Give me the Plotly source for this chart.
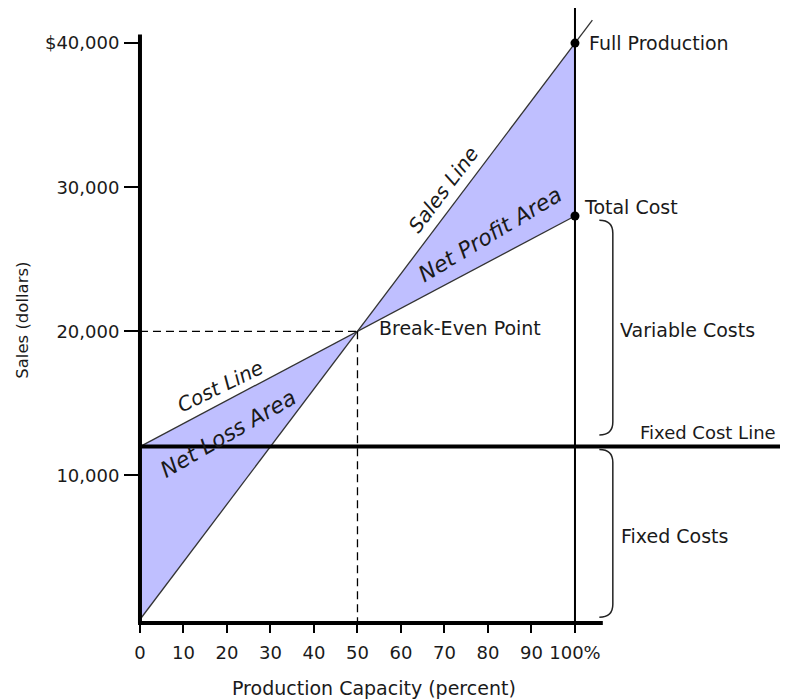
import plotly.graph_objects as go

# ---------------- data ----------------
capacity = [0, 50, 100]            # production capacity (percent)
sales = [0, 20000, 40000]          # sales line (dollars)
total_cost = [12000, 20000, 28000] # cost line (dollars)
fixed_cost = 12000
break_even_x = 50
break_even_y = 20000

x_tickvals = [0, 10, 20, 30, 40, 50, 60, 70, 80, 90, 100]
x_ticktext = ["0", "10", "20", "30", "40", "50", "60", "70", "80", "90", "100%"]
y_tickvals = [10000, 20000, 30000, 40000]
y_ticktext = ["10,000", "20,000", "30,000", "$40,000"]

# ---------------- layout constants ----------------
# page body has an 8px margin, so the figure is 8px smaller than the window
W, H = 780, 691
X_RANGE = [-30.34, 148.97]
Y_RANGE = [-5517, 42436]
AXIS_Y = -250          # level of the drawn x axis
AXIS_TOP = 40600       # top of the drawn y axis
X_AXIS_END = 106.4
FULL_TOP = 42436       # top of the 100% line
SALES_EXT = 104        # sales line drawn slightly past 100%

FILL = "rgb(191,191,255)"
INK = "#1a1a1a"
FONT = "DejaVu Sans"
FS = 19
FS_IT = 20
FS_TICK = 18

fig = go.Figure()

# net loss area (between cost line and sales line, 0..break-even)
fig.add_trace(go.Scatter(
    x=[capacity[0], capacity[1], capacity[0]],
    y=[total_cost[0], sales[1], sales[0]],
    fill="toself", fillcolor=FILL, mode="lines", line=dict(width=0),
    hoverinfo="skip", showlegend=False))
# net profit area
fig.add_trace(go.Scatter(
    x=[capacity[1], capacity[2], capacity[2]],
    y=[sales[1], sales[2], total_cost[2]],
    fill="toself", fillcolor=FILL, mode="lines", line=dict(width=0),
    hoverinfo="skip", showlegend=False))

# sales line (with small extension past 100%)
slope = (sales[-1] - sales[0]) / (capacity[-1] - capacity[0])
fig.add_trace(go.Scatter(
    x=capacity + [SALES_EXT], y=sales + [sales[0] + slope * SALES_EXT],
    mode="lines", line=dict(color="#333", width=1.3),
    hoverinfo="skip", showlegend=False))
# cost line
fig.add_trace(go.Scatter(
    x=capacity, y=total_cost, mode="lines", line=dict(color="#333", width=1.3),
    hoverinfo="skip", showlegend=False))

# fixed cost line
fig.add_trace(go.Scatter(
    x=[0, X_RANGE[1]], y=[fixed_cost, fixed_cost], mode="lines",
    line=dict(color="black", width=4), hoverinfo="skip", showlegend=False))

# dashed break-even guides
fig.add_trace(go.Scatter(
    x=[0, break_even_x], y=[break_even_y, break_even_y], mode="lines",
    line=dict(color="black", width=1.3, dash="8px,5px"),
    hoverinfo="skip", showlegend=False))
fig.add_trace(go.Scatter(
    x=[break_even_x, break_even_x], y=[break_even_y, AXIS_Y], mode="lines",
    line=dict(color="black", width=1.3, dash="8px,5px"),
    hoverinfo="skip", showlegend=False))

# 100% vertical line
fig.add_trace(go.Scatter(
    x=[capacity[-1], capacity[-1]], y=[AXIS_Y, FULL_TOP], mode="lines",
    line=dict(color="black", width=2), hoverinfo="skip", showlegend=False))

# axes lines
fig.add_trace(go.Scatter(
    x=[0, 0], y=[AXIS_Y, AXIS_TOP], mode="lines",
    line=dict(color="black", width=4), hoverinfo="skip", showlegend=False))
fig.add_trace(go.Scatter(
    x=[-0.45, X_AXIS_END], y=[AXIS_Y, AXIS_Y], mode="lines",
    line=dict(color="black", width=4), hoverinfo="skip", showlegend=False))

# markers
fig.add_trace(go.Scatter(
    x=[capacity[-1], capacity[-1]], y=[sales[-1], total_cost[-1]],
    mode="markers", marker=dict(color="black", size=9),
    hoverinfo="skip", showlegend=False))

# brackets
def bracket(x0, x1, yt, yb, d):
    return (f"M {x0},{yt} Q {x1},{yt} {x1},{yt - d} "
            f"L {x1},{yb + d} Q {x1},{yb} {x0},{yb}")

BX0, BX1, BD = 105.6, 108.7, 900
fig.add_shape(type="path", path=bracket(BX0, BX1, total_cost[-1] - 300, fixed_cost + 800, BD),
              line=dict(color="#222", width=1.5))
fig.add_shape(type="path", path=bracket(BX0, BX1, fixed_cost - 200, 150, BD),
              line=dict(color="#222", width=1.5))

# annotations
def txt(x, y, s, anchor="left", angle=0, italic=False, size=FS):
    fig.add_annotation(x=x, y=y, text=s, showarrow=False, xanchor=anchor,
                       yanchor="middle", textangle=angle,
                       font=dict(family=FONT, size=size, color=INK,
                                 style="italic" if italic else "normal"))

txt(102.8, 40000, "Full Production")
txt(101.6, 28600, "Total Cost")
txt(54.6, 20200, "Break-Even Point")
txt(109.8, 20100, "Variable Costs")
txt(114.6, 13000, "Fixed Cost Line", size=18)
txt(110.1, 5800, "Fixed Costs")

txt(69.7, 29800, "Sales Line", anchor="center", angle=-53, italic=True, size=FS_IT)
txt(80.5, 26700, "Net Profit Area", anchor="center", angle=-31, italic=True, size=22)
txt(18.6, 16200, "Cost Line", anchor="center", angle=-26, italic=True, size=FS_IT)
txt(20.3, 12900, "Net Loss Area", anchor="center", angle=-30, italic=True, size=22)

txt(53.8, -4750, "Production Capacity (percent)", anchor="center")
txt(-26.9, 20800, "Sales (dollars)", anchor="center", angle=-90, size=16.5)

fig.update_layout(
    width=W, height=H,
    margin=dict(l=0, r=0, t=0, b=0),
    paper_bgcolor="white", plot_bgcolor="white",
    showlegend=False,
    xaxis=dict(range=X_RANGE, showgrid=False, zeroline=False, showline=False,
               tickvals=x_tickvals, ticktext=x_ticktext,
               ticks="outside", ticklen=9, tickwidth=2, tickcolor="black",
               ticklabelstandoff=4,
               anchor="free", position=(AXIS_Y - Y_RANGE[0]) / (Y_RANGE[1] - Y_RANGE[0]),
               tickfont=dict(family=FONT, size=FS_TICK, color=INK), fixedrange=True),
    yaxis=dict(range=Y_RANGE, showgrid=False, zeroline=False, showline=False,
               tickvals=y_tickvals, ticktext=y_ticktext,
               ticks="outside", ticklen=16, tickwidth=2, tickcolor="black",
               ticklabelstandoff=1,
               anchor="free", position=(0 - X_RANGE[0]) / (X_RANGE[1] - X_RANGE[0]),
               tickfont=dict(family=FONT, size=FS_TICK, color=INK), fixedrange=True),
)

fig.write_html("out.html")
